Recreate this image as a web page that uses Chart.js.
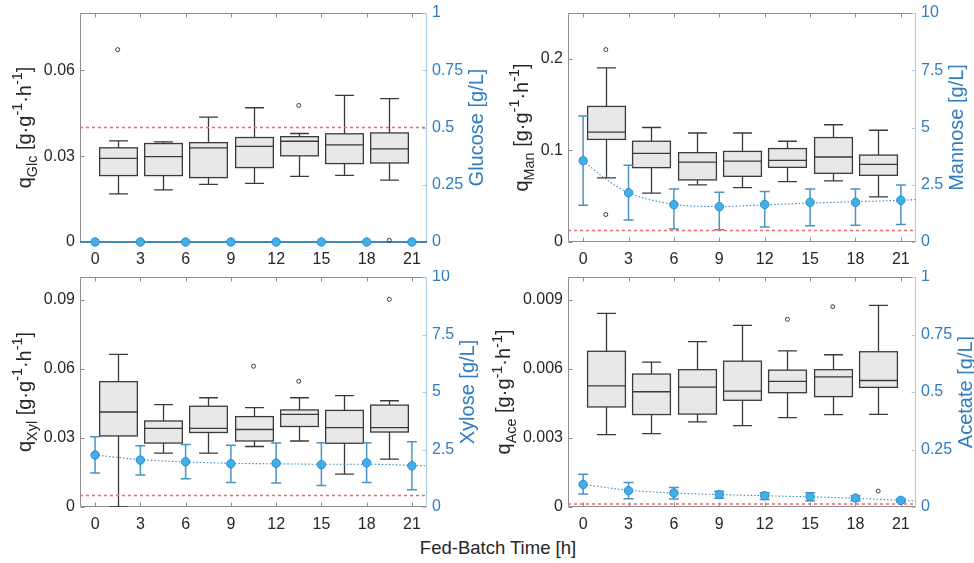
<!DOCTYPE html>
<html>
<head>
<meta charset="utf-8">
<script src="https://cdn.jsdelivr.net/npm/chart.js@4"></script>
<style>
  body { margin: 0; background: #fff; width: 974px; height: 563px; position: relative; overflow: hidden; font-family: "Liberation Sans", Arial, sans-serif; }
  canvas { position: absolute; }
  #xlabel { position: absolute; left: 398px; width: 200px; top: 537px; text-align: center; font-size: 18.5px; color: #262626; white-space: nowrap; }
</style>
</head>
<body>
<div id="xlabel">Fed-Batch Time [h]</div>
<script>
// sampling times of the feed phase and the box positions between them
const times = [0, 3, 6, 9, 12, 15, 18, 21];
const boxTimes = [1.5, 4.5, 7.5, 10.5, 13.5, 16.5, 19.5];
const xTicks = [0, 3, 6, 9, 12, 15, 18, 21];

// glucose: specific uptake rate boxes + residual concentration
const glcLow  = [0.0168, 0.0182, 0.0201, 0.0205, 0.0229, 0.0233, 0.0216];
const glcQ1   = [0.0232, 0.0232, 0.0225, 0.0260, 0.0301, 0.0274, 0.0276];
const glcMed  = [0.0292, 0.0298, 0.0329, 0.0334, 0.0352, 0.0339, 0.0325];
const glcQ3   = [0.0329, 0.0344, 0.0347, 0.0365, 0.0368, 0.0378, 0.0381];
const glcHigh = [0.0353, 0.0350, 0.0436, 0.0469, 0.0379, 0.0512, 0.0501];
const glcOutX = [1.5, 13.5, 19.5];
const glcOutY = [0.0672, 0.0477, 0.0006];
const glcConc = [0, 0, 0, 0, 0, 0, 0, 0];
const glcFitX = [-1, 22];
const glcFit  = [0, 0];
const glcLimit = 0.5;

// mannose
const manLow  = [0.070, 0.0533, 0.0623, 0.0594, 0.0659, 0.0667, 0.0493];
const manQ1   = [0.112, 0.0812, 0.0678, 0.0717, 0.0815, 0.0750, 0.0728];
const manMed  = [0.120, 0.0967, 0.0873, 0.0884, 0.0891, 0.0928, 0.0848];
const manQ3   = [0.148, 0.110, 0.0975, 0.0989, 0.102, 0.114, 0.0949];
const manHigh = [0.190, 0.125, 0.119, 0.119, 0.110, 0.128, 0.122];
const manOutX = [1.5, 1.5];
const manOutY = [0.210, 0.030];
const manConc = [3.55, 2.15, 1.63, 1.54, 1.64, 1.73, 1.73, 1.82];
const manErrLo = [1.60, 0.96, 0.57, 0.54, 0.66, 0.71, 0.73, 0.76];
const manErrHi = [5.50, 3.35, 2.31, 2.17, 2.20, 2.31, 2.31, 2.49];
const manFitX = [0, 1.5, 3, 6, 9, 12, 15, 18, 21, 22];
const manFit  = [3.55, 2.75, 2.15, 1.65, 1.55, 1.62, 1.70, 1.76, 1.82, 1.85];
const manLimit = 0.5;

// xylose
const xylLow  = [0, 0.0234, 0.0234, 0.0263, 0.0287, 0.0143, 0.0208];
const xylQ1   = [0.0309, 0.0278, 0.0324, 0.0287, 0.0350, 0.0277, 0.0326];
const xylMed  = [0.0413, 0.0342, 0.0342, 0.0337, 0.0403, 0.0345, 0.0345];
const xylQ3   = [0.0545, 0.0374, 0.0438, 0.0393, 0.0422, 0.0420, 0.0443];
const xylHigh = [0.0664, 0.0445, 0.0475, 0.0432, 0.0475, 0.0484, 0.0462];
const xylOutX = [10.5, 13.5, 19.5];
const xylOutY = [0.0612, 0.0547, 0.0903];
const xylConc = [2.26, 2.04, 1.97, 1.88, 1.90, 1.84, 1.92, 1.79];
const xylErrLo = [1.48, 1.39, 1.23, 1.06, 1.04, 0.93, 1.06, 0.75];
const xylErrHi = [3.05, 2.66, 2.72, 2.69, 2.78, 2.79, 2.79, 2.84];
const xylFitX = [0, 3, 6, 9, 12, 15, 18, 21, 22];
const xylFit  = [2.26, 2.06, 1.96, 1.90, 1.88, 1.86, 1.86, 1.81, 1.79];
const xylLimit = 0.5;

// acetate (by-product)
const aceLow  = [0.00315, 0.00319, 0.00370, 0.00354, 0.00389, 0.00402, 0.00403];
const aceQ1   = [0.00435, 0.00402, 0.00404, 0.00464, 0.00497, 0.00480, 0.00520];
const aceMed  = [0.00527, 0.00501, 0.00521, 0.00504, 0.00546, 0.00566, 0.00550];
const aceQ3   = [0.00677, 0.00578, 0.00597, 0.00634, 0.00595, 0.00597, 0.00675];
const aceHigh = [0.00842, 0.00630, 0.00719, 0.00790, 0.00679, 0.00662, 0.00877];
const aceOutX = [13.5, 16.5, 19.5];
const aceOutY = [0.00816, 0.00871, 0.00069];
const aceConc = [0.098, 0.071, 0.061, 0.054, 0.049, 0.045, 0.039, 0.029];
const aceErrLo = [0.056, 0.036, 0.035, 0.038, 0.033, 0.027, 0.027, 0.022];
const aceErrHi = [0.142, 0.107, 0.085, 0.068, 0.062, 0.062, 0.049, 0.035];
const aceFitX = [0, 3, 6, 9, 12, 15, 18, 21, 22];
const aceFit  = [0.098, 0.073, 0.061, 0.054, 0.049, 0.044, 0.038, 0.029, 0.026];
const aceLimit = 0.013;

// axis ticks
const glcRateTicks = [0, 0.03, 0.06];
const manRateTicks = [0, 0.1, 0.2];
const xylRateTicks = [0, 0.03, 0.06, 0.09];
const aceRateTicks = [0, 0.003, 0.006, 0.009];
const unitTicks = [0, 0.25, 0.5, 0.75, 1];
const tenTicks = [0, 2.5, 5, 7.5, 10];

const FONT = '"Liberation Sans", Arial, sans-serif';
const DARK = '#262626';
const BLUE = '#2f7cbf';
const BOX_W = 2.5;
const TITLE_SIZE = 20;

Chart.defaults.font.family = FONT;
Chart.defaults.font.size = 16;
Chart.defaults.color = DARK;

function extras(p) {
  return {
    id: 'extras',
    beforeDatasetsDraw(chart) {
      const { ctx, chartArea: a, scales: { x, y, y2 } } = chart;
      const L = Math.round(a.left) + 0.5, R = Math.round(a.right) - 0.5;
      const T = Math.round(a.top) + 0.5, B = Math.round(a.bottom) - 0.5;
      ctx.save();
      ctx.lineWidth = 1;
      // frame and inward ticks
      ctx.strokeStyle = '#8e8e8e';
      ctx.beginPath();
      ctx.moveTo(R, T); ctx.lineTo(L, T); ctx.lineTo(L, B); ctx.lineTo(R, B);
      xTicks.forEach(v => {
        const px = Math.round(x.getPixelForValue(v)) + 0.5;
        ctx.moveTo(px, B); ctx.lineTo(px, B - 4);
        ctx.moveTo(px, T); ctx.lineTo(px, T + 4);
      });
      p.yTicks.forEach(v => {
        const py = Math.round(y.getPixelForValue(v)) + 0.5;
        ctx.moveTo(L, py); ctx.lineTo(L + 4, py);
      });
      ctx.stroke();
      ctx.strokeStyle = '#a9c9e4';
      ctx.beginPath();
      ctx.moveTo(R, T); ctx.lineTo(R, B);
      p.y2Ticks.forEach(v => {
        const py = Math.round(y2.getPixelForValue(v)) + 0.5;
        ctx.moveTo(R, py); ctx.lineTo(R - 4, py);
      });
      ctx.stroke();

      ctx.beginPath();
      ctx.rect(a.left, a.top, a.right - a.left, a.bottom - a.top);
      ctx.clip();
      // box plots
      const half = (x.getPixelForValue(BOX_W) - x.getPixelForValue(0)) / 2;
      ctx.lineWidth = 1.3;
      ctx.strokeStyle = '#3a3a3a';
      boxTimes.forEach((t, i) => {
        const cx = Math.round(x.getPixelForValue(t)) + 0.5;
        const lo = y.getPixelForValue(p.low[i]);
        const q1 = y.getPixelForValue(p.q1[i]);
        const md = y.getPixelForValue(p.med[i]);
        const q3 = y.getPixelForValue(p.q3[i]);
        const hi = y.getPixelForValue(p.high[i]);
        ctx.beginPath();
        ctx.moveTo(cx, q3); ctx.lineTo(cx, hi);
        ctx.moveTo(cx - half / 2, hi); ctx.lineTo(cx + half / 2, hi);
        ctx.moveTo(cx, q1); ctx.lineTo(cx, lo);
        ctx.moveTo(cx - half / 2, lo); ctx.lineTo(cx + half / 2, lo);
        ctx.stroke();
        ctx.fillStyle = '#e8e8e8';
        ctx.fillRect(cx - half, q3, 2 * half, q1 - q3);
        ctx.strokeRect(cx - half, q3, 2 * half, q1 - q3);
        ctx.beginPath();
        ctx.moveTo(cx - half, md); ctx.lineTo(cx + half, md);
        ctx.stroke();
      });
      // error bars of the concentrations
      if (p.errLo) {
        ctx.strokeStyle = '#4b93c5';
        ctx.lineWidth = 1.5;
        times.forEach((t, i) => {
          const cx = x.getPixelForValue(t);
          const lo = y2.getPixelForValue(p.errLo[i]);
          const hi = y2.getPixelForValue(p.errHi[i]);
          ctx.beginPath();
          ctx.moveTo(cx, lo); ctx.lineTo(cx, hi);
          ctx.moveTo(cx - 5, lo); ctx.lineTo(cx + 5, lo);
          ctx.moveTo(cx - 5, hi); ctx.lineTo(cx + 5, hi);
          ctx.stroke();
        });
      }
      ctx.restore();
    },
    afterDraw(chart) {
      const { ctx, chartArea: a } = chart;
      ctx.save();
      // axis titles, placed just outside the tick labels
      ctx.font = '16px ' + FONT;
      const wl = Math.max(...p.yTicks.map(v => ctx.measureText(String(v)).width));
      const wr = Math.max(...p.y2Ticks.map(v => ctx.measureText(String(v)).width));
      const cy = (a.top + a.bottom) / 2;
      ctx.fillStyle = DARK;
      drawRich(ctx, [['q', 0], [p.sub, 1], [' [g\u00b7g', 0], ['-1', 2], ['\u00b7h', 0], ['-1', 2], [']', 0]],
        a.left - 5 - wl - 13, cy, TITLE_SIZE);
      ctx.fillStyle = BLUE;
      drawRich(ctx, [[p.right, 0]], a.right + 5 + wr + 20, cy, TITLE_SIZE);
      ctx.restore();
    }
  };
}

// rotated label with sub- and superscript pieces
function drawRich(ctx, parts, bx, cy, size) {
  const small = size * 0.72;
  ctx.save();
  ctx.translate(bx, cy);
  ctx.rotate(-Math.PI / 2);
  ctx.textAlign = 'left';
  ctx.textBaseline = 'alphabetic';
  const widths = parts.map(([t, k]) => {
    ctx.font = (k ? small : size) + 'px ' + FONT;
    return ctx.measureText(t).width;
  });
  let pos = -widths.reduce((s, w) => s + w, 0) / 2;
  parts.forEach(([t, k], i) => {
    ctx.font = (k ? small : size) + 'px ' + FONT;
    const dy = k === 1 ? size * 0.3 : k === 2 ? -size * 0.42 : 0;
    ctx.fillText(t, pos, dy);
    pos += widths[i];
  });
  ctx.restore();
}

function pts(xs, ys) { return xs.map((v, i) => ({ x: v, y: ys[i] })); }

function makePanel(p) {
  const canvas = document.createElement('canvas');
  canvas.width = p.w;
  canvas.height = p.h;
  canvas.style.left = p.left + 'px';
  canvas.style.top = p.top + 'px';
  document.body.appendChild(canvas);

  new Chart(canvas.getContext('2d'), {
    type: 'scatter',
    data: {
      datasets: [
        {
          label: p.right,
          data: pts(times, p.conc),
          yAxisID: 'y2',
          pointRadius: 4.2,
          pointBackgroundColor: '#41b0ea',
          pointBorderColor: '#2a8bcb',
          pointBorderWidth: 1,
          clip: false,
          order: 0
        },
        {
          label: 'outliers',
          data: pts(p.outX, p.outY),
          yAxisID: 'y',
          pointRadius: 2,
          pointBackgroundColor: 'rgba(0,0,0,0)',
          pointBorderColor: '#3a3a3a',
          pointBorderWidth: 1,
          clip: false,
          order: 1
        },
        {
          label: 'fit',
          data: pts(p.fitX, p.fit),
          yAxisID: 'y2',
          showLine: true,
          pointRadius: 0,
          borderColor: '#3f88c0',
          borderWidth: p.solidFit ? 1.8 : 1.1,
          borderDash: p.solidFit ? [] : [1.5, 2],
          cubicInterpolationMode: 'monotone',
          clip: false,
          order: 2
        },
        {
          label: 'limit',
          data: [{ x: -1, y: p.limit }, { x: 22, y: p.limit }],
          yAxisID: 'y2',
          showLine: true,
          pointRadius: 0,
          borderColor: '#ec6a6a',
          borderWidth: 1.5,
          borderDash: [3, 3],
          order: 3
        }
      ]
    },
    options: {
      responsive: false,
      animation: false,
      devicePixelRatio: 1,
      layout: { padding: { top: p.padTop, left: 0, right: 0, bottom: 0 } },
      plugins: { legend: { display: false }, tooltip: { enabled: false } },
      scales: {
        x: {
          type: 'linear', min: -1, max: 22,
          afterBuildTicks: s => { s.ticks = xTicks.map(v => ({ value: v })); },
          afterFit: s => { s.height = 28; s.paddingLeft = 0; s.paddingRight = 0; },
          grid: { display: false, drawTicks: false },
          border: { display: false },
          ticks: { padding: 8, autoSkip: false, maxRotation: 0, color: DARK, callback: v => String(v) }
        },
        y: {
          type: 'linear', position: 'left', min: 0, max: p.yMax,
          afterBuildTicks: s => { s.ticks = p.yTicks.map(v => ({ value: v })); },
          afterFit: s => { s.width = p.leftW; s.paddingTop = 0; s.paddingBottom = 0; },
          grid: { display: false, drawTicks: false },
          border: { display: false },
          ticks: { padding: 5, color: DARK, callback: v => String(v) }
        },
        y2: {
          type: 'linear', position: 'right', min: 0, max: p.y2Max,
          afterBuildTicks: s => { s.ticks = p.y2Ticks.map(v => ({ value: v })); },
          afterFit: s => { s.width = p.rightW; s.paddingTop = 0; s.paddingBottom = 0; },
          grid: { display: false, drawTicks: false },
          border: { display: false },
          ticks: { padding: 5, color: BLUE, callback: v => String(v) }
        }
      }
    },
    plugins: [extras(p)]
  });
}

makePanel({
  left: 0, top: 0, w: 500, h: 270, leftW: 80, rightW: 73, padTop: 13,
  sub: 'Glc', right: 'Glucose [g/L]', yMax: 0.08, y2Max: 1, yTicks: glcRateTicks, y2Ticks: unitTicks,
  low: glcLow, q1: glcQ1, med: glcMed, q3: glcQ3, high: glcHigh, outX: glcOutX, outY: glcOutY,
  conc: glcConc, errLo: null, errHi: null, fitX: glcFitX, fit: glcFit, limit: glcLimit, solidFit: true
});
makePanel({
  left: 487, top: 0, w: 487, h: 270, leftW: 81, rightW: 58, padTop: 13,
  sub: 'Man', right: 'Mannose [g/L]', yMax: 0.25, y2Max: 10, yTicks: manRateTicks, y2Ticks: tenTicks,
  low: manLow, q1: manQ1, med: manMed, q3: manQ3, high: manHigh, outX: manOutX, outY: manOutY,
  conc: manConc, errLo: manErrLo, errHi: manErrHi, fitX: manFitX, fit: manFit, limit: manLimit
});
makePanel({
  left: 0, top: 270, w: 500, h: 265, leftW: 80, rightW: 73, padTop: 7,
  sub: 'Xyl', right: 'Xylose [g/L]', yMax: 0.1, y2Max: 10, yTicks: xylRateTicks, y2Ticks: tenTicks,
  low: xylLow, q1: xylQ1, med: xylMed, q3: xylQ3, high: xylHigh, outX: xylOutX, outY: xylOutY,
  conc: xylConc, errLo: xylErrLo, errHi: xylErrHi, fitX: xylFitX, fit: xylFit, limit: xylLimit
});
makePanel({
  left: 487, top: 270, w: 487, h: 265, leftW: 81, rightW: 58, padTop: 7,
  sub: 'Ace', right: 'Acetate [g/L]', yMax: 0.01, y2Max: 1, yTicks: aceRateTicks, y2Ticks: unitTicks,
  low: aceLow, q1: aceQ1, med: aceMed, q3: aceQ3, high: aceHigh, outX: aceOutX, outY: aceOutY,
  conc: aceConc, errLo: aceErrLo, errHi: aceErrHi, fitX: aceFitX, fit: aceFit, limit: aceLimit
});
</script>
</body>
</html>
